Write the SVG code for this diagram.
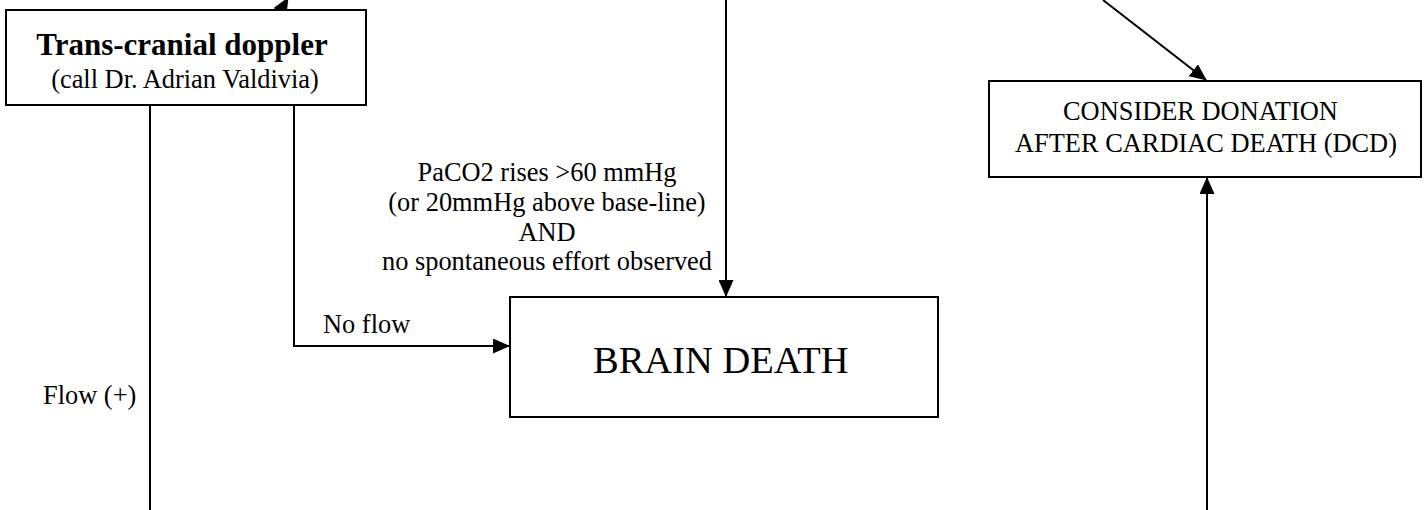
<svg xmlns="http://www.w3.org/2000/svg" width="1426" height="510" viewBox="0 0 1426 510">
<style>
.box{fill:#fff;stroke:#000;stroke-width:2}
.ln{fill:none;stroke:#000;stroke-width:2}
.t{font-family:"Liberation Serif","Times New Roman",serif;fill:#000;font-size:26.4px}
.b{font-weight:bold;font-size:31px}
.big{font-size:38.5px}
</style>
<defs>
<marker id="ah" markerUnits="userSpaceOnUse" markerWidth="17" markerHeight="15" viewBox="0 0 17 15" refX="16" refY="7.5" orient="auto">
<path d="M0,0 L17,7.5 L0,15 Z" fill="#000"/>
</marker>
</defs>
<g id="connectors">
<line class="ln" x1="281" y1="10" x2="288" y2="-2" marker-end="url(#ah)"/>
<line class="ln" x1="150" y1="105" x2="150" y2="512"/>
<polyline class="ln" points="294,105 294,346 509,346" marker-end="url(#ah)"/>
<line class="ln" x1="726" y1="0" x2="726" y2="296" marker-end="url(#ah)"/>
<line class="ln" x1="1103" y1="0" x2="1206" y2="80" marker-end="url(#ah)"/>
<line class="ln" x1="1207" y1="512" x2="1207" y2="178" marker-end="url(#ah)"/>
<text class="t" x="323" y="333">No flow</text>
<text class="t" x="43" y="404">Flow (+)</text>
<text class="t" text-anchor="middle" x="547" y="181">PaCO2 rises &gt;60 mmHg</text>
<text class="t" text-anchor="middle" x="547" y="211">(or 20mmHg above base-line)</text>
<text class="t" text-anchor="middle" x="547" y="240.5">AND</text>
<text class="t" text-anchor="middle" x="547" y="270">no spontaneous effort observed</text>
</g>
<g id="tcd">
<rect class="box" x="6" y="10" width="360" height="95"/>
<text class="t b" text-anchor="middle" x="182" y="55">Trans-cranial doppler</text>
<text class="t" text-anchor="middle" x="185" y="88">(call Dr. Adrian Valdivia)</text>
</g>
<g id="brain-death">
<rect class="box" x="510" y="297" width="428" height="120"/>
<text class="t big" x="593" y="373">BRAIN DEATH</text>
</g>
<g id="dcd">
<rect class="box" x="989" y="81" width="432" height="96"/>
<text class="t" x="1063" y="120">CONSIDER DONATION</text>
<text class="t" x="1015" y="152">AFTER CARDIAC DEATH (DCD)</text>
</g>
</svg>
